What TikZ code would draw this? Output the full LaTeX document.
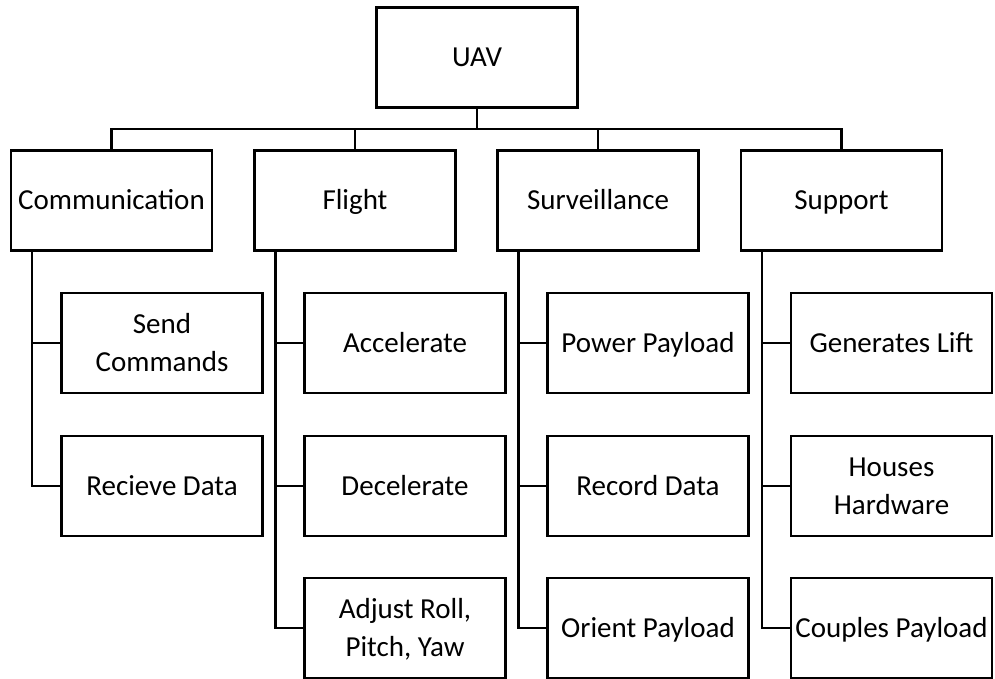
\documentclass[tikz,border=0pt]{standalone}
\usepackage{fontspec}
\setmainfont{Carlito}
\newcommand{\tstrut}{\rule[-9pt]{0pt}{36pt}}
\begin{document}
\begin{tikzpicture}[x=1pt,y=-1pt,
  box/.style={draw=black,line width=2.2pt,minimum width=201pt,minimum height=100pt,inner sep=0pt,align=center,font=\fontsize{29}{38}\selectfont},
  conn/.style={draw=black,line width=2.2pt}]
\useasboundingbox (0,0) rectangle (995,679);
\node[box] (uav) at (477,57.5) {\tstrut UAV};
\node[box] (com) at (111.5,200.5) {\tstrut Communication};
\node[box] (fli) at (355,200.5) {\tstrut Flight};
\node[box] (sur) at (598,200.5) {\tstrut Surveillance};
\node[box] (sup) at (841.5,200.5) {\tstrut Support};
% children
\node[box] (c1) at (162,343) {\tstrut Send\\\tstrut Commands};
\node[box] (c2) at (162,486) {\tstrut Recieve Data};
\node[box] (f1) at (405,343) {\tstrut Accelerate};
\node[box] (f2) at (405,486) {\tstrut Decelerate};
\node[box] (f3) at (405,628) {\tstrut Adjust Roll,\\\tstrut Pitch, Yaw};
\node[box] (s1) at (648,343) {\tstrut Power Payload};
\node[box] (s2) at (648,486) {\tstrut Record Data};
\node[box] (s3) at (648,628) {\tstrut Orient Payload};
\node[box] (p1) at (891.5,343) {\tstrut Generates Lift};
\node[box] (p2) at (891.5,486) {\tstrut Houses\\\tstrut Hardware};
\node[box] (p3) at (891.5,628) {\tstrut Couples Payload};
% bus
\coordinate (bus) at (477,129);
\draw[conn] (uav.south) -- (bus);
\draw[conn] (com.north) |- (bus) -| (sup.north);
\draw[conn] (fli.north) -- (fli.north |- bus);
\draw[conn] (sur.north) -- (sur.north |- bus);
% child connectors
\foreach \p/\cs in {com/{c1,c2},fli/{f1,f2,f3},sur/{s1,s2,s3},sup/{p1,p2,p3}}{
  \foreach \c in \cs {
    \draw[conn] ([xshift=-79.5pt]\p.south) |- (\c.west);
  }
}
\end{tikzpicture}
\end{document}
